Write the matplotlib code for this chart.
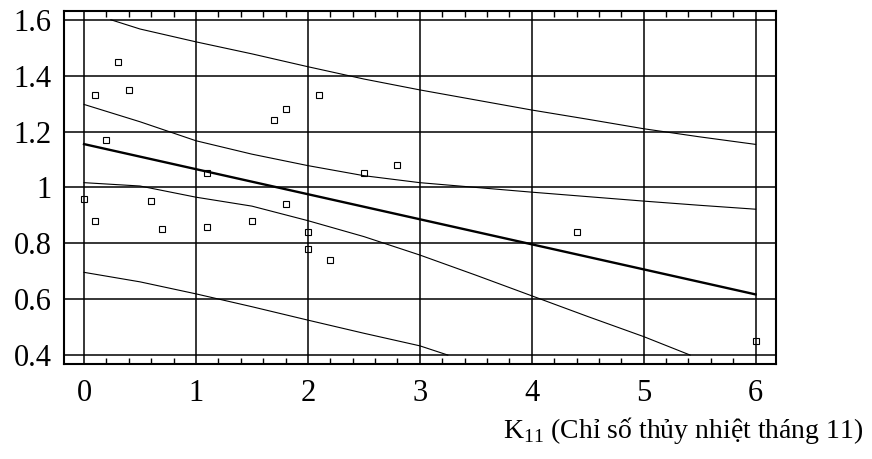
import matplotlib
matplotlib.use('Agg')
import matplotlib.pyplot as plt
from matplotlib.ticker import MultipleLocator

plt.rcParams['font.family'] = ['Liberation Serif', 'DejaVu Serif']
plt.rcParams['mathtext.fontset'] = 'custom'
plt.rcParams['mathtext.rm'] = 'Liberation Serif'

# observed points
k11 = [0.0, 0.1, 0.3, 0.4, 0.2, 1.1, 1.7, 1.8, 2.1, 2.5, 2.8,
       0.6, 0.1, 0.7, 1.1, 1.5, 1.8, 2.0, 2.0, 2.2, 4.4, 6.0]
ratio = [0.96, 1.33, 1.45, 1.35, 1.17, 1.05, 1.24, 1.28, 1.33, 1.05, 1.08,
         0.95, 0.88, 0.85, 0.86, 0.88, 0.94, 0.84, 0.78, 0.74, 0.84, 0.45]

# regression line
reg_x = [0, 6]
reg_y = [1.155, 0.617]

# confidence band
conf_x = [0, 0.5, 1, 1.5, 2, 2.5, 3, 3.5, 4, 4.5, 5, 5.5, 6]
conf_hi = [1.297, 1.235, 1.167, 1.119, 1.078, 1.042, 1.017, 1.0, 0.983,
           0.967, 0.951, 0.936, 0.922]
conf_lo_x = [0, 0.5, 1, 1.5, 2, 2.5, 3, 3.5, 4, 4.5, 5, 5.415]
conf_lo = [1.017, 1.005, 0.965, 0.933, 0.881, 0.824, 0.758, 0.686, 0.612,
           0.538, 0.466, 0.4]

# prediction band
pred_hi_x = [0.24, 0.5, 1, 1.5, 2, 2.5, 3, 3.5, 4, 4.5, 5, 5.5, 6]
pred_hi = [1.6, 1.567, 1.521, 1.478, 1.432, 1.388, 1.349, 1.313, 1.277,
           1.244, 1.210, 1.181, 1.154]
pred_lo_x = [0, 0.5, 1, 1.5, 2, 2.5, 3, 3.25]
pred_lo = [0.696, 0.662, 0.619, 0.573, 0.525, 0.478, 0.433, 0.4]

fig = plt.figure(figsize=(8.72, 4.59), dpi=100)
ax = fig.add_axes([0.0734, 0.207, 0.8162, 0.770])

ax.plot(reg_x, reg_y, color='black', lw=1.7)
ax.plot(conf_x, conf_hi, color='black', lw=0.8)
ax.plot(conf_lo_x, conf_lo, color='black', lw=0.8)
ax.plot(pred_hi_x, pred_hi, color='black', lw=0.8)
ax.plot(pred_lo_x, pred_lo, color='black', lw=0.8)
ax.plot(k11, ratio, 's', ms=5, mfc='none', mec='black', mew=0.8)

ax.set_xlim(-0.179, 6.18)
ax.set_ylim(0.368, 1.633)
ax.set_xticks(range(7))
ax.set_yticks([0.4, 0.6, 0.8, 1.0, 1.2, 1.4, 1.6])
ax.set_yticklabels(['0.4', '0.6', '0.8', '1', '1.2', '1.4', '1.6'])
ax.xaxis.set_minor_locator(MultipleLocator(0.2))
ax.grid(True, color='black', lw=1.1)
ax.set_axisbelow(True)

ax.tick_params(axis='x', which='both', direction='in', top=True,
               labelsize=22, pad=11)
ax.tick_params(axis='x', which='major', length=0)
ax.tick_params(axis='x', which='minor', length=4, width=1)
ax.tick_params(axis='y', which='both', direction='in', length=0,
               labelsize=22, pad=9)
for s in ax.spines.values():
    s.set_linewidth(1.5)

fig.text(0.99, 0.045, r'K$_{\mathrm{11}}$ (Chỉ số thủy nhiệt tháng 11)',
         ha='right', va='baseline', fontsize=20)

fig.savefig('out.png', dpi=100)
